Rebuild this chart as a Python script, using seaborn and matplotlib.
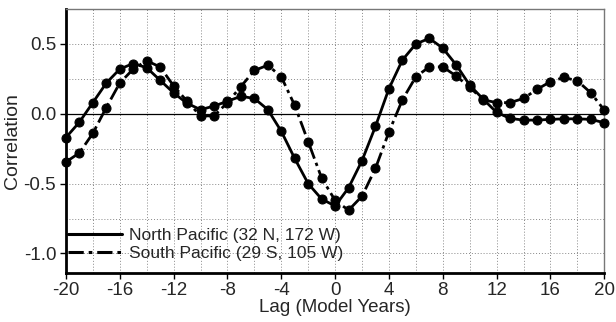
import numpy as np
import pandas as pd
import matplotlib
matplotlib.use("Agg")
import matplotlib.pyplot as plt
from matplotlib.lines import Line2D
from matplotlib.ticker import MultipleLocator
import seaborn as sns

lags = list(range(-20, 21))
north = [-0.17, -0.06, 0.08, 0.22, 0.32, 0.36, 0.33, 0.24, 0.15, 0.075,
         0.03, 0.055, 0.09, 0.125, 0.11, 0.03, -0.125, -0.32, -0.50, -0.61,
         -0.66, -0.53, -0.335, -0.09, 0.18, 0.385, 0.50, 0.54, 0.47, 0.35,
         0.205, 0.105, 0.01, -0.033, -0.045, -0.045, -0.04, -0.036, -0.036, -0.04,
         -0.064]
south = [-0.345, -0.28, -0.14, 0.045, 0.22, 0.32, 0.38, 0.335, 0.20, 0.09,
         -0.015, -0.015, 0.08, 0.195, 0.31, 0.348, 0.265, 0.06, -0.20, -0.46,
         -0.62, -0.69, -0.59, -0.39, -0.13, 0.10, 0.265, 0.336, 0.336, 0.27,
         0.19, 0.10, 0.08, 0.08, 0.11, 0.175, 0.23, 0.26, 0.236, 0.15,
         0.026]
labels = ["North Pacific (32 N, 172 W)", "South Pacific (29 S, 105 W)"]
xticks = [-20, -16, -12, -8, -4, 0, 4, 8, 12, 16, 20]
yticks = [-1.0, -0.5, 0.0, 0.5]

sns.set_theme(style="white")
plt.rcParams['font.family'] = ['Liberation Sans', 'DejaVu Sans']

df = pd.DataFrame({"lag": lags * 2, "corr": north + south,
                   "series": [labels[0]] * len(lags) + [labels[1]] * len(lags)})

fig = plt.figure(figsize=(6.16, 3.22), dpi=100)
ax = fig.add_axes([0.107, 0.152, 0.874, 0.82])

ax.set_xlim(-20, 20)
ax.set_ylim(-1.14, 0.75)
ax.xaxis.set_minor_locator(MultipleLocator(2))
ax.yaxis.set_minor_locator(MultipleLocator(0.25))
ax.grid(which="both", color="#888888", linestyle=(0, (1, 2)), linewidth=0.7)
ax.axhline(0, color="black", linewidth=0.9, zorder=1.5)

dash_pat = (5, 1.6, 1.2, 1.6)
dash_styles = {labels[0]: "", labels[1]: dash_pat}
sns.lineplot(data=df, x="lag", y="corr", style="series", dashes=dash_styles,
             color="black", linewidth=2.0, marker="o", markersize=6.5,
             markeredgecolor="black", markerfacecolor="black", ax=ax,
             legend=False, zorder=3, clip_on=False)

ax.set_xticks(xticks)
ax.set_yticks(yticks)
ax.set_yticklabels(["-1.0", "-0.5", "0.0", "0.5"])
ax.set_xticklabels([str(t) for t in xticks])
ax.tick_params(axis="both", which="major", labelsize=13.5, length=4.5, width=1,
               direction="out", color="black", pad=2.5, bottom=True, left=True)
ax.tick_params(axis="x", which="major", pad=2)
ax.tick_params(axis="both", which="minor", length=0)
ax.set_xlabel("Lag (Model Years)", fontsize=13.5, labelpad=0)
ax.set_ylabel("Correlation", fontsize=14, labelpad=2)

for s in ["left", "bottom"]:
    ax.spines[s].set_color("black")
    ax.spines[s].set_linewidth(2.0)
for s in ["top", "right"]:
    ax.spines[s].set_color("#777777")
    ax.spines[s].set_linewidth(1.0)

handles = [Line2D([], [], color="black", linewidth=2.2),
           Line2D([], [], color="black", linewidth=2.2, dashes=dash_pat)]
ax.legend(handles, labels, loc="lower left", frameon=False, fontsize=12.5,
          handlelength=3.1, handletextpad=0.4, labelspacing=0.15,
          borderaxespad=0, borderpad=0, bbox_to_anchor=(0.004, 0.045))

fig.savefig("out.png", dpi=100)
